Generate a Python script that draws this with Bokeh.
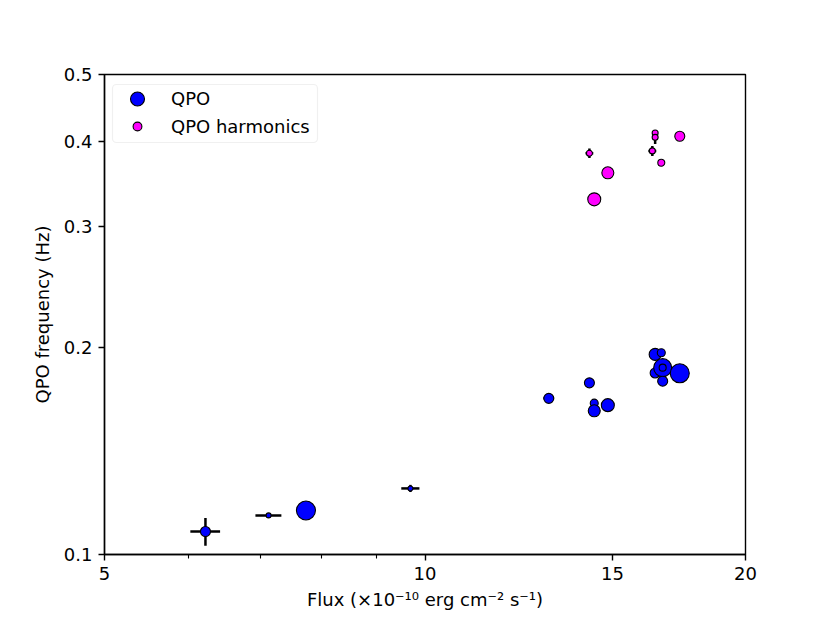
import numpy as np
from bokeh.plotting import figure
from bokeh.models import (FixedTicker, CustomJSTickFormatter, Legend, LegendItem,
                          ColumnDataSource, BoxAnnotation)
from bokeh.embed import file_html
from bokeh.resources import INLINE

# ---- data ----
qpo_flux = [6.22, 7.13, 7.73, 9.69, 13.07, 14.27, 14.42, 14.42, 14.85,
            16.45, 16.67, 16.45, 16.72, 16.72, 16.72, 17.35]
qpo_freq = [0.108, 0.114, 0.1159, 0.1248, 0.1688, 0.1778, 0.1661, 0.1619, 0.165,
            0.1956, 0.1967, 0.1838, 0.1871, 0.1871, 0.1788, 0.1836]
qpo_flux_err = [0.20, 0.20, 0.0, 0.19, 0.15, 0.0, 0.0, 0.0, 0.0,
                0.0, 0.0, 0.0, 0.0, 0.0, 0.0, 0.0]
qpo_freq_err = [0.005, 0.0005, 0.0, 0.0015, 0.0008, 0.0, 0.0, 0.0, 0.0,
                0.0, 0.0, 0.0, 0.0, 0.0, 0.0, 0.0]
qpo_size = [10, 5, 19, 5, 10, 10, 8, 12, 13, 12, 8, 10, 18, 7, 10, 19]

harm_flux = [14.27, 14.85, 14.42, 16.45, 16.45, 16.35, 16.67, 17.35]
harm_freq = [0.384, 0.3596, 0.329, 0.411, 0.405, 0.387, 0.372, 0.4065]
harm_flux_err = [0.12, 0.0, 0.0, 0.0, 0.0, 0.14, 0.0, 0.0]
harm_freq_err = [0.006, 0.0, 0.0, 0.004, 0.009, 0.0065, 0.0, 0.0]
harm_size = [6, 12, 13, 6, 6, 6, 7, 10]

x_ticks = [5, 10, 15, 20]
x_minor = [6, 7, 8, 9]
y_ticks = [0.1, 0.2, 0.3, 0.4, 0.5]

FONT = "DejaVu Sans"
FS = "18px"

p = figure(x_axis_type="log", y_axis_type="log",
           x_range=(5, 20), y_range=(0.1, 0.5),
           frame_width=641, frame_height=480,
           min_border_left=104, min_border_top=74,
           min_border_right=76, min_border_bottom=62,
           output_backend="svg", toolbar_location=None)

p.xgrid.visible = False
p.ygrid.visible = False
p.outline_line_color = "black"
p.outline_line_width = 1.4
p.background_fill_color = "white"
p.border_fill_color = "white"

p.xaxis.ticker = FixedTicker(ticks=x_ticks, minor_ticks=x_minor)
p.yaxis.ticker = FixedTicker(ticks=y_ticks, minor_ticks=[])
p.xaxis.formatter = CustomJSTickFormatter(code="return String(tick);")
p.yaxis.formatter = CustomJSTickFormatter(code="return String(tick);")

for ax in (p.xaxis[0], p.yaxis[0]):
    ax.axis_line_color = "black"
    ax.axis_line_width = 1.4
    ax.major_tick_line_color = "black"
    ax.major_tick_line_width = 1.4
    ax.minor_tick_line_color = "black"
    ax.minor_tick_line_width = 1.1
    ax.major_tick_out = 6
    ax.major_tick_in = 0
    ax.minor_tick_out = 4
    ax.minor_tick_in = 0
    ax.major_label_text_font = FONT
    ax.major_label_text_font_size = FS
    ax.major_label_text_color = "black"
    ax.major_label_standoff = 6
    ax.axis_label_text_font = FONT
    ax.axis_label_text_font_size = FS
    ax.axis_label_text_font_style = "normal"
    ax.axis_label_text_color = "black"

p.xaxis.axis_label = "Flux (×10⁻¹⁰ erg cm⁻² s⁻¹)"
p.yaxis.axis_label = "QPO frequency (Hz)"
p.xaxis.axis_label_standoff = 6
p.yaxis.axis_label_standoff = 8

# ---- error bars ----
def errbars(xs, ys, xe, ye):
    xs = np.array(xs); ys = np.array(ys); xe = np.array(xe); ye = np.array(ye)
    mx = xe > 0
    p.segment(x0=xs[mx] - xe[mx], x1=xs[mx] + xe[mx], y0=ys[mx], y1=ys[mx],
              line_color="black", line_width=2.5)
    my = ye > 0
    p.segment(x0=xs[my], x1=xs[my], y0=ys[my] - ye[my], y1=ys[my] + ye[my],
              line_color="black", line_width=2.5)

errbars(qpo_flux, qpo_freq, qpo_flux_err, qpo_freq_err)
errbars(harm_flux, harm_freq, harm_flux_err, harm_freq_err)

qsrc = ColumnDataSource(dict(x=qpo_flux, y=qpo_freq, s=qpo_size))
hsrc = ColumnDataSource(dict(x=harm_flux, y=harm_freq, s=harm_size))
rq = p.scatter("x", "y", size="s", source=qsrc, fill_color="blue",
               line_color="black", line_width=1.1)
rh = p.scatter("x", "y", size="s", source=hsrc, fill_color="magenta",
               line_color="black", line_width=1.1)

# legend frame (rounded box like matplotlib's); screen units relative to frame, y from bottom
frame = BoxAnnotation(left=8, right=213, top=470, bottom=412,
                      left_units="screen", right_units="screen",
                      top_units="screen", bottom_units="screen",
                      fill_color="white", fill_alpha=0.8,
                      line_color="#cccccc", line_width=1.2, border_radius=4,
                      editable=False)
p.add_layout(frame)

def make_legend(label, renderer, gh, ybottom):
    lg = Legend(items=[LegendItem(label=label, renderers=[renderer])],
                location=(15, ybottom))
    lg.margin = 0
    lg.padding = 0
    lg.spacing = 0
    lg.glyph_width = 36
    lg.glyph_height = gh
    lg.label_height = 20
    lg.label_standoff = 16
    lg.label_text_font = FONT
    lg.label_text_font_size = FS
    lg.label_text_color = "black"
    lg.border_line_color = None
    lg.background_fill_alpha = 0
    lg.click_policy = "none"
    p.add_layout(lg)

make_legend("QPO", rq, 35, 438)
make_legend("QPO harmonics", rh, 22, 417)

open("out.html", "w").write(file_html(p, INLINE))
